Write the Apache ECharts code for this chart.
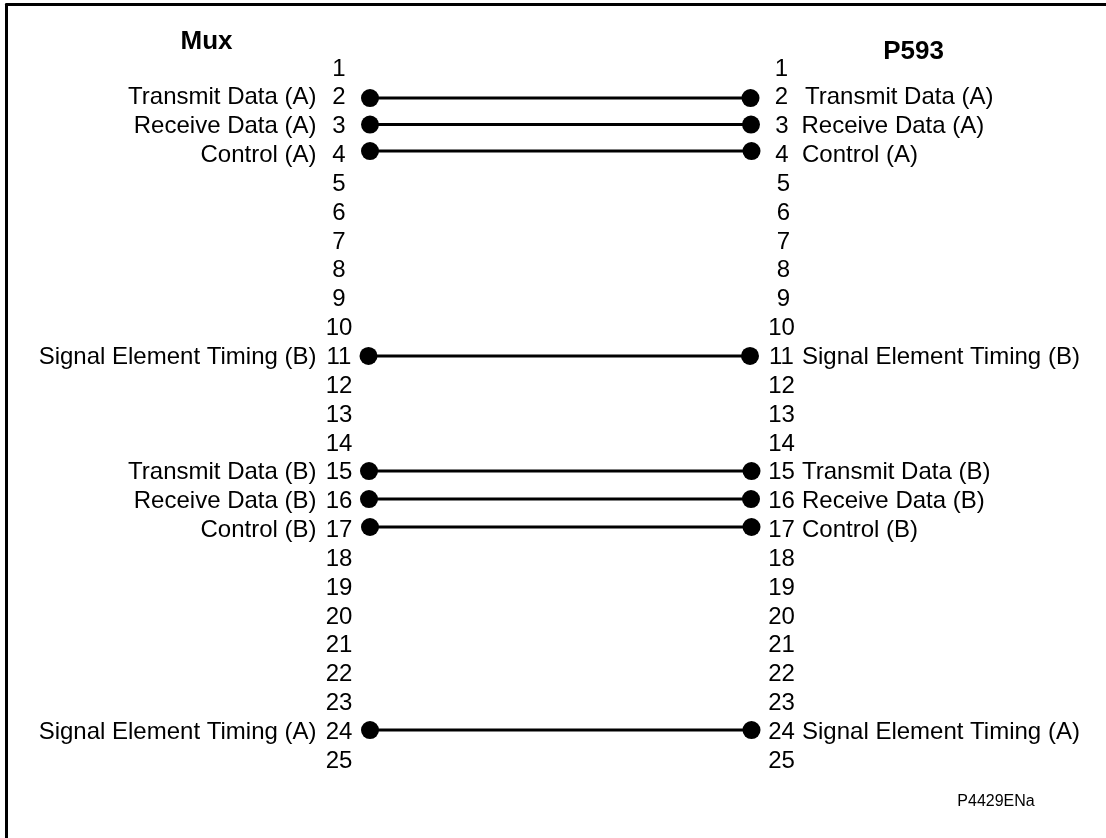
<!DOCTYPE html>
<html><head><meta charset="utf-8">
<style>html,body{margin:0;padding:0;background:#fff}#c{width:1106px;height:838px}</style>
<script src="https://cdn.jsdelivr.net/npm/echarts@6/dist/echarts.min.js"></script>
</head><body><div id="c"></div>
<script>
const pins = [1,2,3,4,5,6,7,8,9,10,11,12,13,14,15,16,17,18,19,20,21,22,23,24,25];
const p593PinCentres = [775,775,775.5,775.5,777,777,777,777,777,775,775,775,775,775,775,775,775,775,775,775,775,775,775,775,775];
const wirePins = [2,3,4,11,15,16,17,24];
const wireRows = [2.01,2.93,3.85,10.95,14.94,15.91,16.88,23.92];
const muxEnds = [363.5,363.5,363.5,362,362.5,362.5,363.5,363.5];
const p593Ends = [744,744.5,745,743.5,745,744.5,745,745];
const signalNames = ['Transmit Data (A)','Receive Data (A)','Control (A)','Signal Element Timing (B)','Transmit Data (B)','Receive Data (B)','Control (B)','Signal Element Timing (A)'];
const p593NameStarts = [798.5,795,795.5,795.5,795.5,795.5,795.5,795.5];
const muxNameEnd = 310;
const muxPinCentre = 332.5;
const headers = [[200,0.05,'Mux'],[907,0.397,'P593']];
const footnote = [[989.5,26.41,'P4429ENa']];

const font = 'Liberation Sans, Arial, sans-serif';
function textSeries(name, data, align, size, weight){
  return {type:'scatter',name,data,symbolSize:1,itemStyle:{color:'rgba(0,0,0,0)',opacity:1},silent:true,z:5,
    labelLayout:{hideOverlap:false},
    label:{show:true,position:'inside',align,verticalAlign:'middle',color:'#000',fontFamily:font,
      fontSize:size,fontWeight:weight||'normal',formatter:p=>p.value[2]}};
}
const wires = wirePins.map((p,i)=>({type:'line',name:'Pin '+p,
  data:[[muxEnds[i],wireRows[i]],[p593Ends[i],wireRows[i]]],
  symbol:'circle',symbolSize:18,showSymbol:true,silent:true,z:3,animation:false,
  lineStyle:{color:'#000',width:3},itemStyle:{color:'#000',opacity:1}}));
const option = {
  animation:false,backgroundColor:'#fff',
  grid:{left:6.5,right:0,top:4.5,bottom:0},
  xAxis:{type:'value',position:'top',min:0,max:1099.5,splitLine:{show:false},axisTick:{show:false},axisLabel:{show:false},
    axisLine:{show:true,onZero:false,lineStyle:{color:'#000',width:3}}},
  yAxis:{type:'value',inverse:true,min:-1.232,max:27.66,splitLine:{show:false},axisTick:{show:false},axisLabel:{show:false},
    axisLine:{show:true,onZero:false,lineStyle:{color:'#000',width:3}}},
  series:[...wires,
    textSeries('Mux pins',pins.map(p=>[muxPinCentre,p,String(p)]),'center',24),
    textSeries('P593 pins',pins.map((p,i)=>[p593PinCentres[i],p,String(p)]),'center',24),
    textSeries('Mux names',wirePins.map((p,i)=>[muxNameEnd,p,signalNames[i]]),'right',24),
    textSeries('P593 names',wirePins.map((p,i)=>[p593NameStarts[i],p,signalNames[i]]),'left',24),
    textSeries('Mux header',[headers[0]],'center',26,'bold'),
    textSeries('P593 header',[headers[1]],'center',26,'bold'),
    textSeries('Drawing ref',footnote,'center',16)
  ]
};
echarts.init(document.getElementById('c'),null,{renderer:'canvas'}).setOption(option);
</script></body></html>
